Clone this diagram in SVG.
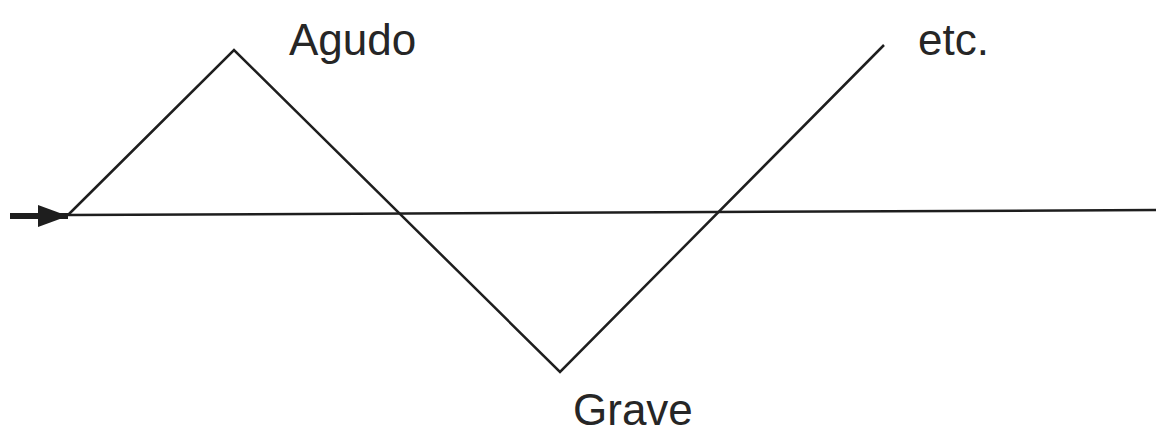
<svg xmlns="http://www.w3.org/2000/svg" width="1156" height="437" viewBox="0 0 1156 437">
<style>
.ln{fill:none;stroke:#1e1e1e;stroke-width:2.5;stroke-linejoin:miter}
.lb{font-family:"Liberation Sans",Arial,sans-serif;font-size:44px;fill:#262626}
</style>
<defs>
<marker id="ah" markerWidth="30" markerHeight="22" refX="30" refY="11" orient="auto" markerUnits="userSpaceOnUse" viewBox="0 0 30 22">
<path d="M0,0 L30,11 L0,22 Z" fill="#1e1e1e"/>
</marker>
</defs>
<rect width="1156" height="437" fill="#ffffff"/>
<g id="connectors">
<line x1="1156" y1="210" x2="68" y2="215" class="ln"/>
<polyline points="68,215 234,50 560,372 884,45" class="ln"/>
<line x1="10" y1="216" x2="68" y2="216" stroke="#1e1e1e" stroke-width="6" marker-end="url(#ah)"/>
</g>
<g id="agudo"><text class="lb" x="289" y="55">Agudo</text></g>
<g id="etc"><text class="lb" x="918" y="55">etc.</text></g>
<g id="grave"><text class="lb" x="573" y="425">Grave</text></g>
</svg>
